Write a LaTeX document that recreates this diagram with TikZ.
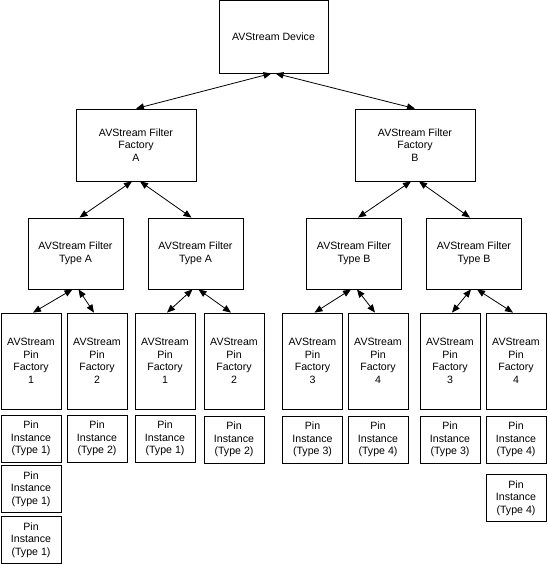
\documentclass[tikz,border=0pt]{standalone}
\usepackage{fontspec}
\setmainfont{Liberation Sans}
\usepackage{tikz}
\usetikzlibrary{arrows.meta}
\tikzstyle{Box}=[rectangle, draw=black, line width=0.8pt, align=center, inner sep=1pt, font=\fontsize{10.6}{12.5}\selectfont]
\tikzstyle{Device}=[Box, minimum width=109, minimum height=73]
\tikzstyle{Factory}=[Box, minimum width=120, minimum height=72]
\tikzstyle{FilterType}=[Box, minimum width=95, minimum height=71]
\tikzstyle{PinFactory}=[Box, minimum width=60, minimum height=96]
\tikzstyle{PinInst}=[Box, minimum width=60, minimum height=47]
\tikzstyle{Link}=[line width=0.8pt, {Triangle[length=8pt,width=6.5pt]}-{Triangle[length=8pt,width=6.5pt]}]

\begin{document}
\begin{tikzpicture}[x=1pt, y=1pt]
    \useasboundingbox (0,0) rectangle (547,-564);
    \path
    (273.5,-36.5) node[Device] (dev) {AVStream Device}
    (136,-145) node[Factory] (facA) {AVStream Filter\\Factory\\A}
    (415,-145) node[Factory] (facB) {AVStream Filter\\Factory\\B};

    \path
    (75.5,-253.5) node[FilterType] (typA1) {AVStream Filter\\Type A}
    (195.5,-253.5) node[FilterType] (typA2) {AVStream Filter\\Type A}
    (354,-253.5) node[FilterType] (typB1) {AVStream Filter\\Type B}
    (474,-253.5) node[FilterType] (typB2) {AVStream Filter\\Type B};

    \path
    (31,-361) node[PinFactory] (pf1) {AVStream\\Pin\\Factory\\1}
    (97,-361) node[PinFactory] (pf2) {AVStream\\Pin\\Factory\\2}
    (165,-361) node[PinFactory] (pf3) {AVStream\\Pin\\Factory\\1}
    (234,-361) node[PinFactory] (pf4) {AVStream\\Pin\\Factory\\2}
    (312.5,-361) node[PinFactory] (pf5) {AVStream\\Pin\\Factory\\3}
    (378,-361) node[PinFactory] (pf6) {AVStream\\Pin\\Factory\\4}
    (450,-361) node[PinFactory] (pf7) {AVStream\\Pin\\Factory\\3}
    (516,-361) node[PinFactory] (pf8) {AVStream\\Pin\\Factory\\4};

    \path
    (31,-438.5) node[PinInst] (pi1) {Pin\\Instance\\(Type 1)}
    (31,-489) node[PinInst] (pi1b) {Pin\\Instance\\(Type 1)}
    (31,-540) node[PinInst] (pi1c) {Pin\\Instance\\(Type 1)}
    (97,-438.5) node[PinInst] (pi2) {Pin\\Instance\\(Type 2)}
    (165,-438.5) node[PinInst] (pi3) {Pin\\Instance\\(Type 1)}
    (234,-439.5) node[PinInst] (pi4) {Pin\\Instance\\(Type 2)}
    (312.5,-439.5) node[PinInst] (pi5) {Pin\\Instance\\(Type 3)}
    (378,-439.5) node[PinInst] (pi6) {Pin\\Instance\\(Type 4)}
    (450,-439.5) node[PinInst] (pi7) {Pin\\Instance\\(Type 3)}
    (516,-439.5) node[PinInst] (pi8) {Pin\\Instance\\(Type 4)}
    (516,-498) node[PinInst] (pi8b) {Pin\\Instance\\(Type 4)};

    \draw[Link] ([xshift=-2]dev.south) -- (facA.north);
    \draw[Link] ([xshift=2]dev.south) -- (facB.north);
    \draw[Link] ([xshift=-4]facA.south) -- ([xshift=4]typA1.north);
    \draw[Link] ([xshift=4]facA.south) -- ([xshift=-4]typA2.north);
    \draw[Link] ([xshift=-4]facB.south) -- ([xshift=4]typB1.north);
    \draw[Link] ([xshift=4]facB.south) -- ([xshift=-4]typB2.north);
    \draw[Link] ([xshift=-3]typA1.south) -- ([xshift=2]pf1.north);
    \draw[Link] ([xshift=3]typA1.south) -- ([xshift=-3]pf2.north);
    \draw[Link] ([xshift=-3]typA2.south) -- ([xshift=2]pf3.north);
    \draw[Link] ([xshift=3]typA2.south) -- ([xshift=-3]pf4.north);
    \draw[Link] ([xshift=-3]typB1.south) -- ([xshift=2]pf5.north);
    \draw[Link] ([xshift=3]typB1.south) -- ([xshift=-3]pf6.north);
    \draw[Link] ([xshift=-3]typB2.south) -- ([xshift=2]pf7.north);
    \draw[Link] ([xshift=3]typB2.south) -- ([xshift=-3]pf8.north);
\end{tikzpicture}
\end{document}
